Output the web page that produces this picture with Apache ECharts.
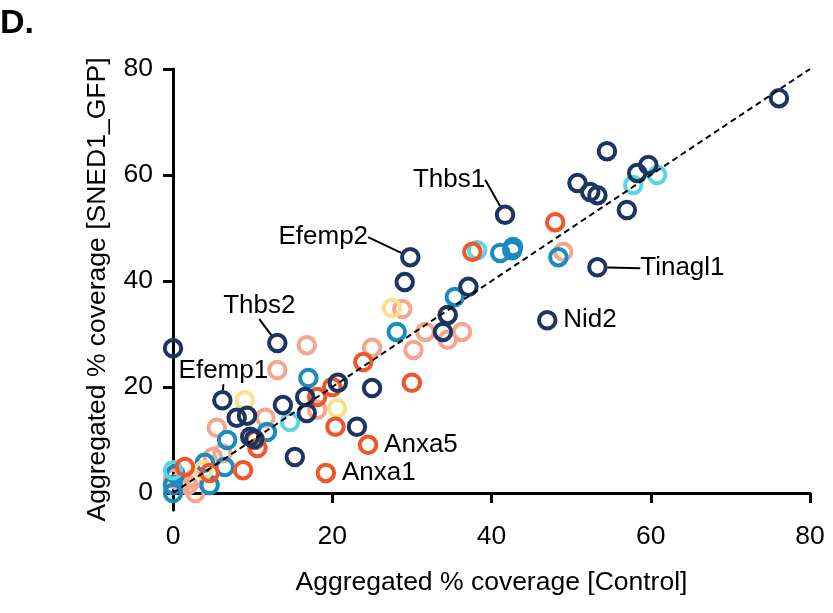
<!DOCTYPE html>
<html>
<head>
<meta charset="utf-8">
<script src="https://cdn.jsdelivr.net/npm/echarts@6/dist/echarts.min.js"></script>
<style>
html,body{margin:0;padding:0;background:#fff;}
#main{width:833px;height:613px;}
</style>
</head>
<body>
<div id="main"></div>
<script>
// ---- data ----
var xTicks = [0, 20, 40, 60, 80];
var yTicks = [0, 20, 40, 60, 80];
var identityLine = [[0, 0], [80, 80]];

var navyPts = [
  [76.1, 74.5], [54.5, 64.5], [59.7, 61.9], [58.3, 60.4], [50.8, 58.5], [52.4, 56.8], [53.3, 56.2],
  [57.0, 53.4], [41.7, 52.5], [53.3, 42.6], [47.0, 32.6], [29.8, 44.5], [29.1, 39.8], [37.1, 38.9],
  [34.5, 33.6], [33.9, 30.4], [0, 27.3], [13.1, 28.3], [6.2, 17.5], [8.0, 14.2], [9.3, 14.6],
  [13.8, 16.6], [16.8, 15.1], [16.6, 18.1], [20.7, 20.8], [25.0, 19.8], [23.1, 12.5], [15.3, 6.8],
  [9.7, 10.6], [10.2, 10.2]
];
var bluePts = [
  [41.1, 45.3], [42.6, 45.8], [42.7, 46.4], [48.4, 44.5], [35.4, 37.0], [28.1, 30.4], [17.0, 21.7],
  [11.8, 11.5], [6.8, 10.0], [4.0, 5.7], [6.5, 4.9], [4.6, 1.5], [0, 0], [0, 1.5], [0.3, 3.6]
];
var cyanPts = [[57.8, 58.1], [60.8, 60.0], [38.2, 45.8], [14.7, 13.4], [0, 4.3]];
var salmonPts = [
  [49.0, 45.5], [28.8, 34.7], [36.3, 30.4], [34.5, 28.9], [31.7, 30.4], [30.2, 27.0], [25.0, 27.4],
  [16.8, 27.9], [13.1, 23.2], [18.1, 15.7], [11.6, 14.2], [5.5, 12.3], [6.2, 7.5], [5.0, 6.8],
  [0, 2.8], [0.9, 2.1], [1.9, 1.5], [2.8, 0], [2.5, 2.5]
];
var orangePts = [
  [48.0, 51.1], [37.6, 45.5], [23.9, 24.7], [30.0, 20.8], [20.0, 20.0], [18.1, 18.1], [20.4, 12.5],
  [24.5, 9.1], [19.2, 3.8], [10.3, 10.0], [10.6, 8.5], [8.8, 4.3], [1.5, 4.9], [4.6, 3.8]
];
var yellowPts = [[27.5, 34.9], [9.0, 17.5], [20.6, 16.0], [3.8, 4.3]];

var labeledGenes = [
  { name: 'Thbs1',   value: [41.7, 52.5], dx: -56, dy: -35, line: true,  pos: 'inside' },
  { name: 'Efemp2',  value: [29.8, 44.5], dx: -87, dy: -20, line: true,  pos: 'inside' },
  { name: 'Thbs2',   value: [13.1, 28.3], dx: -18, dy: -37, line: true,  pos: 'inside' },
  { name: 'Efemp1',  value: [6.2, 17.5],  dx: 1,   dy: -29, line: true,  pos: 'inside' },
  { name: 'Tinagl1', value: [53.3, 42.6], dx: 85,  dy: 1,   line: true,  pos: 'inside' },
  { name: 'Nid2',    value: [47.0, 32.6], dx: 0,   dy: 0,   line: false, pos: 'right' },
  { name: 'Anxa5',   value: [24.5, 9.1],  dx: 0,   dy: 0,   line: false, pos: 'right' },
  { name: 'Anxa1',   value: [19.2, 3.8],  dx: 0,   dy: 0,   line: false, pos: 'right' }
];

var FONT = "'Liberation Sans', Arial, Helvetica, sans-serif";
var colors = {
  navy: '#1d3562', blue: '#1a8bc0', cyan: '#5cd5df',
  salmon: '#f5a68e', orange: '#f0552b', yellow: '#fbe08c'
};

function ringSeries(name, data, color) {
  return {
    name: name, type: 'scatter', data: data, symbol: 'circle', symbolSize: 16.5,
    clip: false,
    itemStyle: { color: 'rgba(255,255,255,0)', borderColor: color, borderWidth: 4, opacity: 1 },
    emphasis: { disabled: true },
    z: 3
  };
}

var chart = echarts.init(document.getElementById('main'), null, { renderer: 'canvas' });

var labelData = labeledGenes.map(function (g) {
  return {
    value: g.value,
    name: g.name,
    label: {
      show: true, formatter: g.name, position: g.pos, distance: 6,
      color: '#000', opacity: 1, textBorderWidth: 0, fontSize: 26, fontFamily: FONT
    },
    labelLine: { show: g.line, lineStyle: { color: '#000', width: 2, opacity: 1 } }
  };
});

chart.setOption({
  animation: false,
  backgroundColor: '#fff',
  title: {
    text: 'D.', left: 0, top: 7, padding: 0,
    textStyle: { fontSize: 34, fontWeight: 'bold', fontFamily: FONT, color: '#000' }
  },
  grid: { left: 173, right: 23, top: 69, bottom: 103, containLabel: false },
  xAxis: {
    type: 'value', min: 0, max: 80,
    name: 'Aggregated % coverage [Control]', nameLocation: 'middle', nameGap: 59,
    nameTextStyle: { fontSize: 26.5, fontFamily: FONT, color: '#000' },
    axisLine: { show: true, lineStyle: { color: '#000', width: 3 } },
    axisTick: { show: true, length: 10, lineStyle: { color: '#000', width: 3 }, customValues: xTicks },
    axisLabel: { fontSize: 26.5, fontFamily: FONT, color: '#000', margin: 13, customValues: xTicks },
    splitLine: { show: false }
  },
  yAxis: {
    type: 'value', min: -3.2, max: 80,
    name: 'Aggregated % coverage [SNED1_GFP]', nameLocation: 'middle', nameGap: 62,
    nameTextStyle: { fontSize: 26.5, fontFamily: FONT, color: '#000' },
    axisLine: { show: true, lineStyle: { color: '#000', width: 3 } },
    axisTick: { show: true, length: 10, lineStyle: { color: '#000', width: 3 }, customValues: yTicks },
    axisLabel: { fontSize: 26.5, fontFamily: FONT, color: '#000', margin: 20, customValues: yTicks },
    splitLine: { show: false }
  },
  series: [
    {
      name: 'identity', type: 'line', data: identityLine, symbol: 'none', clip: false,
      lineStyle: { color: '#000', width: 2, type: [6, 4] }, z: 5, silent: true
    },
    ringSeries('salmon', salmonPts, colors.salmon),
    ringSeries('blue', bluePts, colors.blue),
    ringSeries('cyan', cyanPts, colors.cyan),
    ringSeries('yellow', yellowPts, colors.yellow),
    ringSeries('orange', orangePts, colors.orange),
    ringSeries('navy', navyPts, colors.navy),
    {
      name: 'labels', type: 'scatter', data: labelData, symbol: 'circle', symbolSize: 20,
      clip: false,
      itemStyle: { color: 'rgba(0,0,0,0)', borderWidth: 0 },
      emphasis: { disabled: true },
      labelLayout: function (params) {
        var g = labeledGenes[params.dataIndex];
        return { dx: g.dx, dy: g.dy };
      },
      z: 6
    }
  ]
});
</script>
</body>
</html>
